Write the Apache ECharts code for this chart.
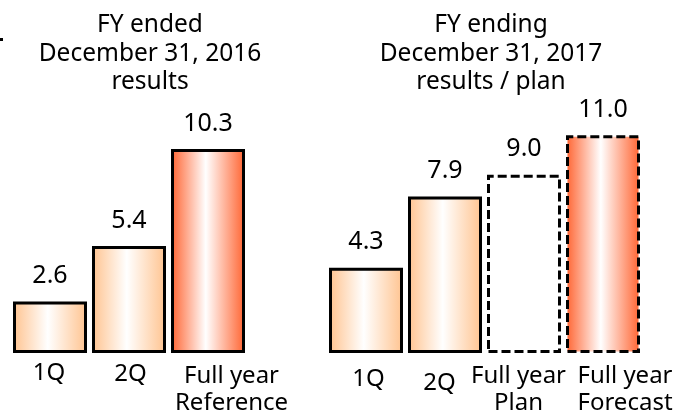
<!DOCTYPE html>
<html>
<head>
<meta charset="utf-8">
<script src="https://cdn.jsdelivr.net/npm/echarts@6/dist/echarts.min.js"></script>
<style>
  html, body { margin: 0; padding: 0; background: #fff; }
  #chart { width: 680px; height: 417px; }
</style>
</head>
<body>
<div id="chart"></div>
<script>
// data
var titles2016 = 'FY ended\nDecember 31, 2016\nresults';
var titles2017 = 'FY ending\nDecember 31, 2017\nresults / plan';
var cats2016 = ['1Q', '2Q', 'Full year\nReference'];
var vals2016 = [2.6, 5.4, 10.3];
var cats2017 = ['1Q', '2Q', 'Full year\nPlan', 'Full year\nForecast'];
var vals2017 = [4.3, 7.9, 9.0, 11.0];

var FONT = 'Noto Sans';

function grad(edge) {
    return new echarts.graphic.LinearGradient(0, 0, 1, 0, [
        { offset: 0, color: edge },
        { offset: 0.47, color: '#ffffff' },
        { offset: 1, color: edge }
    ]);
}
var peach = '#ffc38f';
var red = '#ff6330';

// per bar look: [fill, dashed border]
var look2016 = [[grad(peach), false], [grad(peach), false], [grad(red), false]];
var look2017 = [[grad(peach), false], [grad(peach), false], ['#ffffff', true], [grad(red), true]];
// label nudges [dx, dy]
var nudge2016 = [[-1, 0], [1.5, 1], [23.5, 3]];
var nudge2017 = [[2.5, 6], [-5.5, 10], [-5.5, 3], [22, 3]];

var cats = [], data = [];
function addGroup(c, v, look, nudge) {
    for (var i = 0; i < c.length; i++) {
        var dx = nudge[i][0], dy = nudge[i][1];
        cats.push({
            value: c[i],
            textStyle: { padding: [dy, dx < 0 ? -2 * dx : 0, 0, dx > 0 ? 2 * dx : 0] }
        });
        data.push({
            value: v[i],
            itemStyle: {
                color: look[i][0],
                borderColor: '#000',
                borderWidth: 3,
                borderType: look[i][1] ? [9, 4] : 'solid'
            }
        });
    }
}
addGroup(cats2016, vals2016, look2016, nudge2016);
cats.push('');
data.push('-');
addGroup(cats2017, vals2017, look2017, nudge2017);

var myChart = echarts.init(document.getElementById('chart'));
var titleStyle = { fontFamily: FONT, fontSize: 24.5, fontWeight: 'normal', color: '#000', lineHeight: 28.5 };
var option = {
    animation: false,
    title: [
        { text: titles2016, left: 150, top: 11, textAlign: 'center', padding: 0, textStyle: titleStyle },
        { text: titles2017, left: 491, top: 11, textAlign: 'center', padding: 0, textStyle: titleStyle }
    ],
    graphic: [{ type: 'rect', left: 0, top: 38, shape: { width: 3, height: 3 }, style: { fill: '#000' } }],
    grid: { left: 10.5, right: 37.5, top: 115.4, bottom: 64 },
    xAxis: {
        type: 'category',
        data: cats,
        axisLine: { show: false },
        axisTick: { show: false },
        axisLabel: {
            interval: 0,
            margin: 6.5,
            color: '#000',
            fontFamily: FONT,
            fontSize: 24,
            lineHeight: 27
        }
    },
    yAxis: {
        type: 'value',
        min: 0,
        max: 12,
        show: false
    },
    series: [{
        type: 'bar',
        barWidth: 74,
        data: data,
        label: {
            show: true,
            position: 'top',
            distance: 13,
            color: '#000',
            fontFamily: FONT,
            fontSize: 25,
            formatter: function (p) { return p.value.toFixed(1); }
        }
    }]
};
myChart.setOption(option);
</script>
</body>
</html>
